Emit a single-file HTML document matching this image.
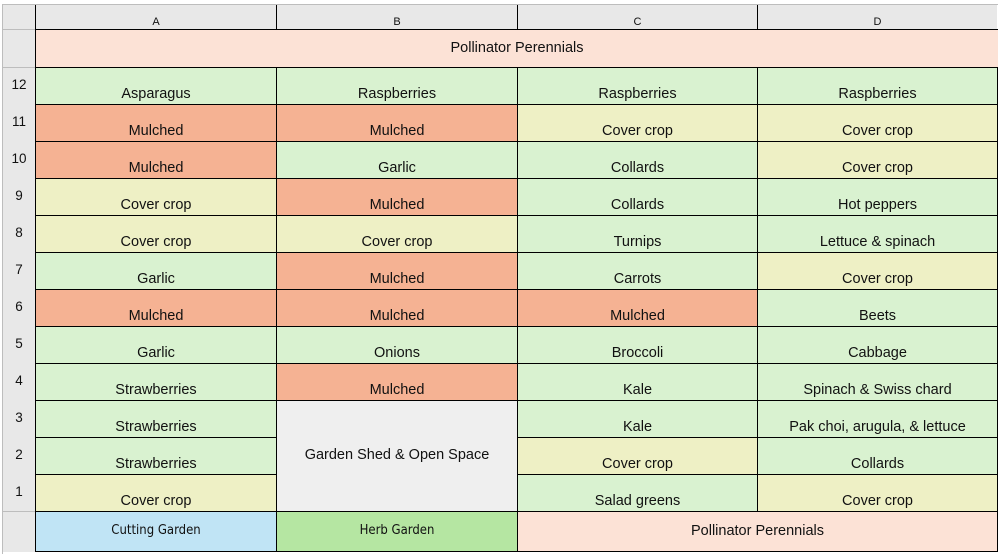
<!DOCTYPE html>
<html><head><meta charset="utf-8"><style>
body{margin:0;width:998px;height:554px;background:#fff;position:relative;overflow:hidden;font-family:"Liberation Sans",Arial,sans-serif;color:#111}
.c{position:absolute;box-sizing:border-box;border:1px solid #000;display:flex;align-items:flex-end;justify-content:center;padding-bottom:2px;font-size:14.5px;white-space:nowrap}
.h{position:absolute;box-sizing:border-box;background:#e8e8e8;font-size:11px;display:flex;justify-content:center}
.G{background:#d9f2d0}.O{background:#f5b293}.Y{background:#eef0c5}.P{background:#fce2d6}
.rn{position:absolute;left:3px;width:32px;text-align:center;font-size:13.5px}
</style></head><body>
<div style="position:absolute;left:2px;top:4px;width:996px;height:1px;background:#bdbdbd"></div>
<div style="position:absolute;left:2px;top:4px;width:1px;height:550px;background:#bdbdbd"></div>
<div class="h" style="left:3px;top:5px;width:33px;height:547px;border-right:1px solid #000"></div>
<div class="h" style="left:35px;top:5px;width:242px;height:25px;border:1px solid #000;border-top:none;align-items:flex-end;padding-bottom:1px">A</div>
<div class="h" style="left:276px;top:5px;width:242px;height:25px;border:1px solid #000;border-top:none;align-items:flex-end;padding-bottom:1px">B</div>
<div class="h" style="left:517px;top:5px;width:241px;height:25px;border:1px solid #000;border-top:none;align-items:flex-end;padding-bottom:1px">C</div>
<div class="h" style="left:757px;top:5px;width:240px;height:25px;border:1px solid #000;border-top:none;border-right:none;align-items:flex-end;padding-bottom:1px">D</div>
<div style="position:absolute;left:3px;top:29px;width:33px;height:1px;background:#bdbdbd"></div>

<div class="c P" style="left:35px;top:29px;width:963px;height:39px;align-items:center;padding-bottom:2px;border-right:none">Pollinator Perennials</div>

<div class="rn" style="top:77px">12</div>
<div class="rn" style="top:114px">11</div>
<div class="rn" style="top:151px">10</div>
<div class="rn" style="top:188px">9</div>
<div class="rn" style="top:225px">8</div>
<div class="rn" style="top:262px">7</div>
<div class="rn" style="top:299px">6</div>
<div class="rn" style="top:336px">5</div>
<div class="rn" style="top:373px">4</div>
<div class="rn" style="top:410px">3</div>
<div class="rn" style="top:447px">2</div>
<div class="rn" style="top:484px">1</div>
<div style="position:absolute;left:3px;top:67px;width:33px;height:1px;background:#bdbdbd"></div>
<div style="position:absolute;left:3px;top:511px;width:33px;height:1px;background:#bdbdbd"></div>

<div class="c G" style="left:35px;top:67px;width:242px;height:38px">Asparagus</div>
<div class="c G" style="left:276px;top:67px;width:242px;height:38px">Raspberries</div>
<div class="c G" style="left:517px;top:67px;width:241px;height:38px">Raspberries</div>
<div class="c G" style="left:757px;top:67px;width:241px;height:38px">Raspberries</div>
<div class="c O" style="left:35px;top:104px;width:242px;height:38px">Mulched</div>
<div class="c O" style="left:276px;top:104px;width:242px;height:38px">Mulched</div>
<div class="c Y" style="left:517px;top:104px;width:241px;height:38px">Cover crop</div>
<div class="c Y" style="left:757px;top:104px;width:241px;height:38px">Cover crop</div>
<div class="c O" style="left:35px;top:141px;width:242px;height:38px">Mulched</div>
<div class="c G" style="left:276px;top:141px;width:242px;height:38px">Garlic</div>
<div class="c G" style="left:517px;top:141px;width:241px;height:38px">Collards</div>
<div class="c Y" style="left:757px;top:141px;width:241px;height:38px">Cover crop</div>
<div class="c Y" style="left:35px;top:178px;width:242px;height:38px">Cover crop</div>
<div class="c O" style="left:276px;top:178px;width:242px;height:38px">Mulched</div>
<div class="c G" style="left:517px;top:178px;width:241px;height:38px">Collards</div>
<div class="c G" style="left:757px;top:178px;width:241px;height:38px">Hot peppers</div>
<div class="c Y" style="left:35px;top:215px;width:242px;height:38px">Cover crop</div>
<div class="c Y" style="left:276px;top:215px;width:242px;height:38px">Cover crop</div>
<div class="c G" style="left:517px;top:215px;width:241px;height:38px">Turnips</div>
<div class="c G" style="left:757px;top:215px;width:241px;height:38px">Lettuce &amp; spinach</div>
<div class="c G" style="left:35px;top:252px;width:242px;height:38px">Garlic</div>
<div class="c O" style="left:276px;top:252px;width:242px;height:38px">Mulched</div>
<div class="c G" style="left:517px;top:252px;width:241px;height:38px">Carrots</div>
<div class="c Y" style="left:757px;top:252px;width:241px;height:38px">Cover crop</div>
<div class="c O" style="left:35px;top:289px;width:242px;height:38px">Mulched</div>
<div class="c O" style="left:276px;top:289px;width:242px;height:38px">Mulched</div>
<div class="c O" style="left:517px;top:289px;width:241px;height:38px">Mulched</div>
<div class="c G" style="left:757px;top:289px;width:241px;height:38px">Beets</div>
<div class="c G" style="left:35px;top:326px;width:242px;height:38px">Garlic</div>
<div class="c G" style="left:276px;top:326px;width:242px;height:38px">Onions</div>
<div class="c G" style="left:517px;top:326px;width:241px;height:38px">Broccoli</div>
<div class="c G" style="left:757px;top:326px;width:241px;height:38px">Cabbage</div>
<div class="c G" style="left:35px;top:363px;width:242px;height:38px">Strawberries</div>
<div class="c O" style="left:276px;top:363px;width:242px;height:38px">Mulched</div>
<div class="c G" style="left:517px;top:363px;width:241px;height:38px">Kale</div>
<div class="c G" style="left:757px;top:363px;width:241px;height:38px">Spinach &amp; Swiss chard</div>
<div class="c G" style="left:35px;top:400px;width:242px;height:38px">Strawberries</div>
<div class="c G" style="left:517px;top:400px;width:241px;height:38px">Kale</div>
<div class="c G" style="left:757px;top:400px;width:241px;height:38px">Pak choi, arugula, &amp; lettuce</div>
<div class="c G" style="left:35px;top:437px;width:242px;height:38px">Strawberries</div>
<div class="c Y" style="left:517px;top:437px;width:241px;height:38px">Cover crop</div>
<div class="c G" style="left:757px;top:437px;width:241px;height:38px">Collards</div>
<div class="c Y" style="left:35px;top:474px;width:242px;height:38px">Cover crop</div>
<div class="c G" style="left:517px;top:474px;width:241px;height:38px">Salad greens</div>
<div class="c Y" style="left:757px;top:474px;width:241px;height:38px">Cover crop</div>
<div class="c" style="left:276px;top:400px;width:242px;height:112px;background:#efefef;align-items:center;padding-bottom:2px">Garden Shed &amp; Open Space</div>
<div class="c" style="left:35px;top:511px;width:242px;height:41px;background:#c0e4f5;align-items:center;font-family:'Liberation Sans Narrow','DejaVu Sans Condensed',sans-serif;font-size:13px">Cutting Garden</div>
<div class="c" style="left:276px;top:511px;width:242px;height:41px;background:#b5e6a2;align-items:center;font-family:'Liberation Sans Narrow','DejaVu Sans Condensed',sans-serif;font-size:13px">Herb Garden</div>
<div class="c P" style="left:517px;top:511px;width:481px;height:41px;align-items:center">Pollinator Perennials</div>
</body></html>
